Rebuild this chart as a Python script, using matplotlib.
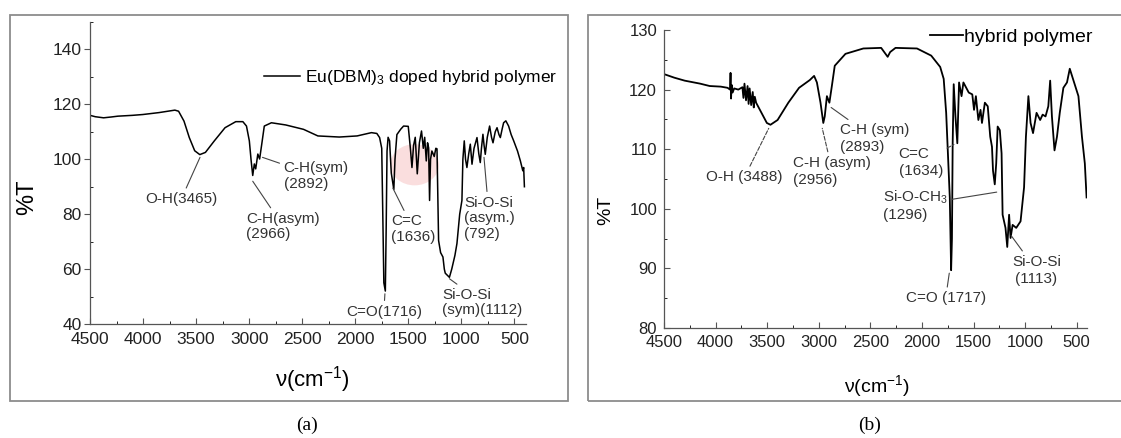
# FTIR spectra of the doped / undoped hybrid polymer, panels (a) and (b)
import matplotlib.pyplot as plt
from matplotlib.patches import Rectangle, Ellipse
from matplotlib.ticker import MultipleLocator

plt.rcParams['font.family'] = ['Liberation Sans', 'DejaVu Sans']
plt.rcParams['mathtext.fontset'] = 'custom'
plt.rcParams['mathtext.rm'] = 'Liberation Sans'
plt.rcParams['mathtext.it'] = 'Liberation Sans:italic'

# ---- panel (a): Eu(DBM)3 doped hybrid polymer ----
wavenumber_a = [4500, 4450, 4372, 4300, 4237, 4100, 4002, 3850, 3700, 3665, 3614, 3564,
                3513, 3465, 3412, 3328, 3227, 3126, 3059, 3025, 2998, 2981, 2966, 2951,
                2938, 2918, 2901, 2881, 2857, 2790, 2655, 2487, 2352, 2150, 1982, 1847,
                1796, 1770, 1750, 1740, 1730, 1716, 1708, 1700, 1690, 1676, 1660, 1636,
                1625, 1607, 1570, 1544, 1500, 1480, 1465, 1450, 1434, 1415, 1395, 1375,
                1358, 1345, 1330, 1318, 1308, 1299, 1290, 1277, 1255, 1240, 1229, 1214,
                1195, 1173, 1160, 1151, 1112, 1090, 1060, 1041, 1015, 994, 985, 972,
                960, 947, 930, 915, 899, 880, 852, 835, 821, 810, 796, 785, 774, 755,
                733, 715, 701, 680, 663, 645, 632, 615, 601, 580, 554, 530, 506, 470,
                443, 420, 412, 405]
transmittance_a = [116.0, 115.5, 115.1, 115.4, 115.7, 116.0, 116.3, 117.0, 117.9, 117.5, 113.9, 107.9,
                   103.1, 101.7, 102.5, 106.7, 111.5, 113.7, 113.7, 112.1, 106.7, 99.5, 94.1, 98.3,
                   96.5, 101.9, 100.1, 105.5, 112.1, 113.3, 112.5, 110.9, 108.5, 108.1, 108.5, 109.7,
                   109.4, 107.9, 104.0, 80.0, 55.0, 52.0, 75.0, 103.0, 108.0, 106.7, 95.0, 89.0,
                   100.0, 109.0, 111.0, 112.1, 112.0, 104.0, 97.0, 105.0, 108.0, 94.7, 106.0, 110.3,
                   104.0, 108.0, 99.4, 106.0, 104.2, 85.0, 100.0, 103.0, 101.0, 104.0, 103.8, 70.4,
                   66.0, 64.4, 60.0, 58.5, 57.0, 60.0, 65.0, 69.3, 80.0, 85.0, 100.0, 106.7,
                   100.0, 97.0, 102.0, 105.5, 98.2, 104.0, 107.9, 102.0, 98.8, 104.0, 109.1, 105.0, 101.8, 108.0,
                   112.1, 108.0, 106.0, 110.0, 111.5, 109.0, 107.9, 111.0, 113.3, 114.0, 112.1, 109.0, 106.7, 103.0,
                   99.4, 95.8, 97.0, 90.0]

# ---- panel (b): hybrid polymer ----
wavenumber_b = [4500, 4400, 4299, 4150, 4057, 3950, 3884, 3860, 3855, 3850, 3845, 3835,
                3820, 3780, 3740, 3730, 3720, 3705, 3690, 3680, 3670, 3655, 3640, 3630,
                3620, 3607, 3555, 3503, 3468, 3399, 3295, 3191, 3087, 3045, 3018, 2983,
                2956, 2942, 2921, 2897, 2873, 2845, 2741, 2568, 2395, 2353, 2332, 2308,
                2256, 2048, 1910, 1823, 1789, 1765, 1744, 1730, 1717, 1709, 1702, 1692,
                1675, 1657, 1640, 1616, 1598, 1546, 1512, 1495, 1477, 1453, 1432, 1418,
                1390, 1362, 1338, 1321, 1311, 1294, 1280, 1266, 1245, 1228, 1218, 1190,
                1173, 1155, 1141, 1121, 1086, 1044, 1010, 992, 968, 947, 923, 889,
                854, 830, 802, 775, 757, 740, 715, 691, 664, 629, 594, 567,
                525, 483, 449, 421, 404]
transmittance_b = [122.6, 122.0, 121.5, 121.0, 120.6, 120.5, 120.3, 120.0, 122.8, 118.5, 120.8, 119.5,
                   120.2, 120.0, 120.4, 118.6, 121.0, 118.2, 120.6, 117.6, 120.2, 117.4, 119.6, 117.0,
                   118.8, 117.8, 116.1, 114.4, 114.1, 114.9, 117.8, 120.3, 121.6, 122.3, 121.2, 117.8,
                   114.4, 115.5, 118.9, 117.8, 120.6, 124.0, 126.0, 126.9, 127.0, 126.0, 125.5, 126.3,
                   127.0, 126.9, 125.7, 123.8, 121.8, 116.1, 107.6, 101.9, 89.7, 95.0, 111.0, 120.9,
                   115.5, 111.0, 121.2, 118.9, 121.2, 119.5, 119.2, 116.6, 118.9, 114.9, 116.6, 114.4,
                   117.8, 117.2, 112.1, 110.4, 106.4, 104.1, 107.6, 113.8, 113.2, 109.3, 99.0, 96.8,
                   93.6, 99.0, 95.1, 97.3, 96.8, 97.9, 103.6, 112.1, 118.9, 114.4, 112.7, 116.1,
                   114.9, 115.8, 115.5, 117.2, 121.5, 115.5, 109.8, 112.1, 116.1, 120.3, 121.2, 123.5,
                   121.2, 118.9, 112.1, 107.6, 101.9]

# peak labels: text, text position (wavenumber, %T), peak position, alignment, leader style
labels_a = [
    ("O-H(3465)", (3640, 85.5), (3463, 100.7), 'center', '-'),
    ("C-H(asym)\n(2966)", (3025, 75.5), (2966, 92.0), 'left', '-'),
    ("C-H(sym)\n(2892)", (2675, 94.0), (2874, 100.7), 'left', '-'),
    ("C=C\n(1636)", (1660, 74.5), (1645, 89.5), 'left', '-'),
    ("Si-O-Si\n(asym.)\n(792)", (975, 78.5), (786, 100.7), 'left', '-'),
    ("C=O(1716)", (1730, 44.5), (1720, 51.0), 'center', '-'),
    ("Si-O-Si\n(sym)(1112)", (1180, 47.8), (1112, 56.5), 'left', '-'),
]
labels_b = [
    ("O-H (3488)", (3720, 105.3), (3485, 113.5), 'center', '--'),
    ("C-H (asym)\n(2956)", (3245, 106.3), (2966, 113.5), 'left', '--'),
    ("C-H (sym)\n(2893)", (2795, 111.8), (2880, 117.0), 'left', '-'),
    ("C=C\n(1634)", (2225, 107.8), (1690, 110.8), 'left', '--'),
    ("Si-O-CH$_3$\n(1296)", (2380, 100.6), (1275, 102.8), 'left', '-'),
    ("C=O (1717)", (1770, 85.0), (1735, 89.2), 'center', '-'),
    ("Si-O-Si\n(1113)", (890, 89.7), (1135, 95.5), 'center', '-'),
]

fig = plt.figure(figsize=(11.21, 4.38), dpi=100)

# grey frames around the two panels
fig.add_artist(Rectangle((10 / 1121, 37 / 438), 558 / 1121, 386 / 438, transform=fig.transFigure,
                         fill=False, ec='#8c8c8c', lw=1.3))
fig.add_artist(Rectangle((588 / 1121, 37 / 438), 540 / 1121, 386 / 438, transform=fig.transFigure,
                         fill=False, ec='#8c8c8c', lw=1.3))

ax_a = fig.add_axes([90 / 1121, 114 / 438, 436 / 1121, 302 / 438])
ax_b = fig.add_axes([664 / 1121, 110 / 438, 423 / 1121, 298 / 438])

for ax in (ax_a, ax_b):
    ax.spines['top'].set_visible(False)
    ax.spines['right'].set_visible(False)
    for s in ('left', 'bottom'):
        ax.spines[s].set_color('#555555')
        ax.spines[s].set_linewidth(0.9)
    ax.set_facecolor('none')
    ax.xaxis.set_major_locator(MultipleLocator(500))
    ax.xaxis.set_minor_locator(MultipleLocator(250))
    ax.tick_params(colors='#555555', labelcolor='#222222')

# panel (a)
ax_a.add_patch(Ellipse((1440, 98), 460, 15, color='#f6c4c4', alpha=0.55, lw=0, zorder=0))
ax_a.plot(wavenumber_a, transmittance_a, color='black', lw=1.1, label='Eu(DBM)$_3$ doped hybrid polymer')
ax_a.set_xlim(4500, 390)
ax_a.set_ylim(40, 150)
ax_a.yaxis.set_minor_locator(MultipleLocator(10))
ax_a.set_yticks(range(40, 141, 20))
ax_a.tick_params(axis='x', which='both', direction='in', labelsize=12.5, pad=6)
ax_a.tick_params(axis='x', which='major', length=4)
ax_a.tick_params(axis='x', which='minor', length=2)
ax_a.tick_params(axis='y', which='major', direction='out', length=4, labelsize=12.5, pad=2)
ax_a.tick_params(axis='y', which='minor', direction='in', length=2)
ax_a.set_xlabel('ν(cm$^{-1}$)', fontsize=16, va='center')
ax_a.xaxis.set_label_coords(0.511, -0.185)
ax_a.set_ylabel('%T', fontsize=17, va='center')
ax_a.yaxis.set_label_coords(-0.145, 0.42)
ax_a.legend(loc='center left', bbox_to_anchor=(0.399, 0.815), frameon=False, fontsize=12.5,
            handlelength=2.1, handletextpad=0.25, borderpad=0, borderaxespad=0)

for text, txy, pxy, ha, ls in labels_a:
    ax_a.annotate(text, xy=pxy, xytext=txy, ha=ha, va='center', fontsize=11, color='#333333',
                  linespacing=1.15,
                  arrowprops=dict(arrowstyle='-', color='#444444', lw=0.8, ls=ls, shrinkA=1, shrinkB=0))

# panel (b)
ax_b.plot(wavenumber_b, transmittance_b, color='black', lw=1.3, label='hybrid polymer')
ax_b.set_xlim(4500, 400)
ax_b.set_ylim(80, 130)
ax_b.yaxis.set_major_locator(MultipleLocator(10))
ax_b.yaxis.set_minor_locator(MultipleLocator(5))
ax_b.tick_params(which='both', direction='in', labelsize=12, pad=5)
ax_b.tick_params(which='major', length=4)
ax_b.tick_params(which='minor', length=2)
ax_b.set_xlabel('ν(cm$^{-1}$)', fontsize=14, va='center')
ax_b.xaxis.set_label_coords(0.504, -0.195)
ax_b.set_ylabel('%T', fontsize=14, va='center')
ax_b.yaxis.set_label_coords(-0.137, 0.396)
ax_b.legend(loc='center left', bbox_to_anchor=(0.629, 0.977), frameon=False, fontsize=14,
            handlelength=1.7, handletextpad=0.05, borderpad=0, borderaxespad=0)

for text, txy, pxy, ha, ls in labels_b:
    ax_b.annotate(text, xy=pxy, xytext=txy, ha=ha, va='center', fontsize=11, color='#333333',
                  linespacing=1.25,
                  arrowprops=dict(arrowstyle='-', color='#444444', lw=0.8, ls=ls, shrinkA=1, shrinkB=0))

# captions under the frames
fig.text(307 / 1121, 1 - 425 / 438, '(a)', family='Liberation Serif', fontsize=14, ha='center', va='center')
fig.text(870 / 1121, 1 - 425 / 438, '(b)', family='Liberation Serif', fontsize=14, ha='center', va='center')

fig.savefig('out.png', dpi=100)
